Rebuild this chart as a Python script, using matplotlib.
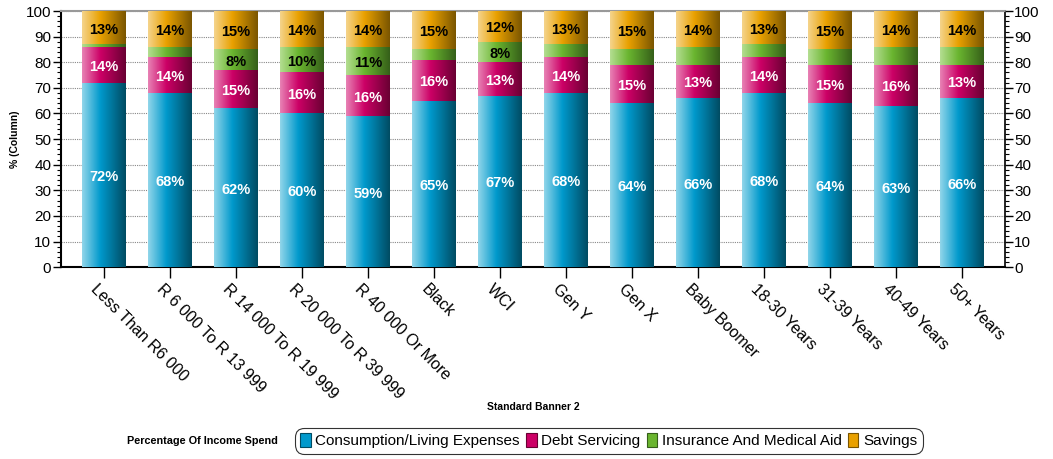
import numpy as np
import matplotlib
matplotlib.use("Agg")
import matplotlib.pyplot as plt
from matplotlib.colors import LinearSegmentedColormap
from matplotlib.patches import Patch
from matplotlib.ticker import MultipleLocator
import matplotlib.transforms as mtransforms

plt.rcParams['font.family'] = ['Liberation Sans', 'DejaVu Sans']

categories = ["Less Than R6 000", "R 6 000 To R 13 999", "R 14 000 To R 19 999",
              "R 20 000 To R 39 999", "R 40 000 Or More", "Black", "WCI", "Gen Y",
              "Gen X", "Baby Boomer", "18-30 Years", "31-39 Years", "40-49 Years",
              "50+ Years"]
consumption = [72, 68, 62, 60, 59, 65, 67, 68, 64, 66, 68, 64, 63, 66]
debt        = [14, 14, 15, 16, 16, 16, 13, 14, 15, 13, 14, 15, 16, 13]
insurance   = [1, 4, 8, 10, 11, 4, 8, 5, 6, 7, 5, 6, 7, 7]
savings     = [13, 14, 15, 14, 14, 15, 12, 13, 15, 14, 13, 15, 14, 14]
series_names = ["Consumption/Living Expenses", "Debt Servicing",
                "Insurance And Medical Aid", "Savings"]

# light -> base -> dark shading for each series (left to right across a bar)
shades = [("#92d6ea", "#0099cc", "#004b62"),
          ("#e883b5", "#cc0066", "#690033"),
          ("#b4de92", "#6ab52f", "#355f19"),
          ("#f5d48c", "#e9a100", "#7a5500")]
label_colors = ["white", "white", "black", "black"]

fig = plt.figure(figsize=(10.53, 4.59), dpi=100)
ax = fig.add_axes([0.058, 0.418, 0.896, 0.558])

x = np.arange(len(categories))
width = 0.66
grad = np.linspace(0, 1, 256).reshape(1, -1)
bottom = np.zeros(len(categories))

for vals, (lo, mid, hi), lc, name in zip([consumption, debt, insurance, savings],
                                          shades, label_colors, series_names):
    vals = np.array(vals, dtype=float)
    bars = ax.bar(x, vals, width, bottom=bottom, color=mid, linewidth=0, zorder=2)
    cmap = LinearSegmentedColormap.from_list(name, [(0, lo), (0.42, mid), (1, hi)])
    for b in bars:
        x0, y0 = b.get_xy()
        im = ax.imshow(grad, cmap=cmap, aspect='auto', zorder=3,
                       extent=[x0, x0 + b.get_width(), y0, y0 + b.get_height()])
        im.set_clip_path(b)
    for xi, v, b0 in zip(x, vals, bottom):
        if v >= 8:
            ax.text(xi, b0 + v / 2 - 0.8, f"{int(v)}%", ha='center', va='center',
                    color=lc, fontsize=10.5, fontweight='bold', zorder=5)
    bottom += vals

ax.set_xlim(-0.65, 13.65)
ax.set_ylim(0, 100)
ax.yaxis.set_major_locator(MultipleLocator(10))
ax.yaxis.set_minor_locator(MultipleLocator(2))
ax.grid(axis='y', linestyle=(0, (1, 1)), color='#888888', linewidth=0.8, zorder=0)
ax.set_axisbelow(True)
ax.tick_params(axis='y', which='major', length=6, width=1, labelsize=11, pad=1)
ax.tick_params(axis='y', which='minor', length=3, width=0.8)
ax.set_xticks(x)
ax.set_xticklabels(categories, rotation=-45, ha='left', va='top',
                   rotation_mode='anchor', fontsize=11.5)
ax.tick_params(axis='x', length=8, width=1, pad=2)
offset = mtransforms.ScaledTranslation(-0.05, -0.0, fig.dpi_scale_trans)
for lab in ax.get_xticklabels():
    lab.set_transform(lab.get_transform() + offset)

for s in ['left', 'bottom']:
    ax.spines[s].set_linewidth(1.5)
ax.spines['top'].set_color('#999999')
ax.spines['top'].set_linewidth(1.5)
ax.spines['right'].set_linewidth(1.2)

ax2 = ax.twinx()
ax2.set_ylim(0, 100)
ax2.yaxis.set_major_locator(MultipleLocator(10))
ax2.yaxis.set_minor_locator(MultipleLocator(2))
ax2.tick_params(axis='y', which='major', length=6, width=1, labelsize=11, pad=1)
ax2.tick_params(axis='y', which='minor', length=3, width=0.8)
for s in ax2.spines.values():
    s.set_visible(False)

ax.set_ylabel("% (Column)", fontsize=7.5, fontweight='bold', labelpad=4)
fig.text(0.506, 0.113, "Standard Banner 2", ha='center', va='center',
         fontsize=7.5, fontweight='bold')

fig.text(0.264, 0.040, "Percentage Of Income Spend", ha='right', va='center',
         fontsize=7.8, fontweight='bold')
handles = [Patch(facecolor=mid, edgecolor=hi, linewidth=0.8)
           for (lo, mid, hi) in shades]
leg = fig.legend(handles, series_names, ncol=4, loc='center',
                 bbox_to_anchor=(0.578, 0.040), fontsize=11, frameon=True,
                 handlelength=0.7, handleheight=1.0, handletextpad=0.3,
                 columnspacing=0.4, borderpad=0.25, borderaxespad=0)
frame = leg.get_frame()
frame.set_edgecolor('black')
frame.set_linewidth(0.8)
frame.set_boxstyle('round,pad=0.1,rounding_size=0.6')

fig.savefig("out.png", dpi=100)
